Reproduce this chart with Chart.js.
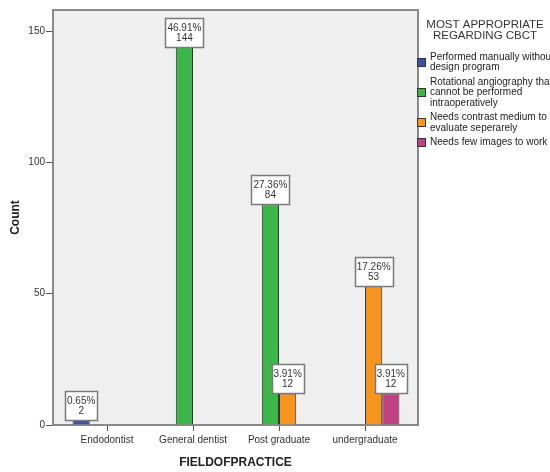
<!DOCTYPE html>
<html>
<head>
<meta charset="utf-8">
<script src="https://cdn.jsdelivr.net/npm/chart.js@4/dist/chart.umd.min.js"></script>
<style>
  html, body { margin: 0; padding: 0; background: #fff; }
  #wrap { width: 550px; height: 472px; }
</style>
</head>
<body>
<div id="wrap"><canvas id="c" width="550" height="472"></canvas></div>
<script>
// Field of practice on the category axis
const categories = ['Endodontist', 'General dentist', 'Post graduate', 'undergraduate'];

// Legend entries (line breaks as in the legend box)
const legendTitle = ['MOST APPROPRIATE', 'REGARDING CBCT'];
const seriesLabels = [
  'Performed manually without\ndesign program',
  'Rotational angiography that\ncannot be performed\nintraoperatively',
  'Needs contrast medium to\nevaluate seperarely',
  'Needs few images to work'
];

// Counts per series (null = no bar in that category)
const manualNoDesign = [2, null, null, null];
const rotationalAngio = [null, 144, 84, null];
const contrastMedium = [null, null, 12, 53];
const fewImages = [null, null, null, 12];

// Y axis ticks
const yTickValues = [0, 50, 100, 150];
const yMax = 158;

const seriesColors = ['#3953a6', '#3cb54a', '#f7941d', '#c1407f'];
const FONT = '"Liberation Sans", Arial, sans-serif';

const seriesData = [manualNoDesign, rotationalAngio, contrastMedium, fewImages];

// Light grey plotting panel with a frame on all four sides
const panelPlugin = {
  id: 'panel',
  beforeDraw(chart) {
    const { ctx, chartArea: a } = chart;
    ctx.save();
    ctx.fillStyle = '#efefef';
    ctx.fillRect(a.left, a.top, a.right - a.left, a.bottom - a.top);
    ctx.restore();
  },
  beforeDatasetsDraw(chart) {
    const { ctx, chartArea: a } = chart;
    ctx.save();
    ctx.strokeStyle = '#8a8a8a';
    ctx.lineWidth = 2;
    ctx.beginPath();
    ctx.moveTo(a.left, a.top);
    ctx.lineTo(a.right, a.top);
    ctx.lineTo(a.right, a.bottom);
    ctx.stroke();
    ctx.restore();
  }
};

// Boxed "percent / count" label on top of each bar
const valueBoxPlugin = {
  id: 'valueBoxes',
  afterDatasetsDraw(chart) {
    const { ctx } = chart;
    let total = 0;
    chart.data.datasets.forEach(ds => ds.data.forEach(v => { if (v != null) total += v; }));
    ctx.save();
    ctx.font = '10px ' + FONT;
    ctx.textAlign = 'center';
    ctx.textBaseline = 'middle';
    chart.data.datasets.forEach((ds, di) => {
      const meta = chart.getDatasetMeta(di);
      meta.data.forEach((bar, i) => {
        const v = ds.data[i];
        if (v == null) return;
        const lines = [(v / total * 100).toFixed(2) + '%', String(v)];
        const w = Math.round(Math.max(...lines.map(t => ctx.measureText(t).width)) + 4);
        const h = 29;
        const x0 = Math.round(bar.x - w / 2) + 0.5;
        const y0 = Math.round(bar.y - h) + 0.5;
        ctx.fillStyle = '#ffffff';
        ctx.fillRect(x0, y0, w, h);
        ctx.strokeStyle = '#7a7a7a';
        ctx.lineWidth = 1.5;
        ctx.strokeRect(x0, y0, w, h);
        ctx.fillStyle = '#333333';
        ctx.fillText(lines[0], bar.x, y0 + 10);
        ctx.fillText(lines[1], bar.x, y0 + 20);
      });
    });
    ctx.restore();
  }
};

// Legend to the right of the panel, with wrapped entry text
const sideLegendPlugin = {
  id: 'sideLegend',
  afterDraw(chart) {
    const { ctx, chartArea: a } = chart;
    ctx.save();
    ctx.fillStyle = '#333333';
    ctx.font = '11.5px ' + FONT;
    ctx.textAlign = 'center';
    ctx.textBaseline = 'middle';
    legendTitle.forEach((t, i) => ctx.fillText(t, 485, 25 + i * 11));

    ctx.font = '10px ' + FONT;
    ctx.textAlign = 'left';
    const lineH = 10.6;
    let y = 57;
    chart.data.datasets.forEach((ds, di) => {
      const lines = ds.label.split('\n');
      const mid = y + (lines.length - 1) * lineH / 2;
      const sx = a.right - 1, sy = Math.round(mid - 4.5);
      ctx.fillStyle = ds.backgroundColor;
      ctx.fillRect(sx, sy, 9, 9);
      ctx.strokeStyle = '#333';
      ctx.lineWidth = 1;
      ctx.strokeRect(sx + 0.5, sy + 0.5, 8, 8);
      ctx.fillStyle = '#222222';
      lines.forEach((t, li) => ctx.fillText(t, 430, y + li * lineH));
      y += lines.length * lineH + 3.6;
    });
    ctx.restore();
  }
};

new Chart(document.getElementById('c'), {
  type: 'bar',
  data: {
    labels: categories,
    datasets: seriesData.map((d, i) => ({
      label: seriesLabels[i],
      data: d,
      backgroundColor: seriesColors[i],
      borderColor: '#333333',
      borderWidth: 1,
      categoryPercentage: 0.8,
      barPercentage: 1.0
    }))
  },
  options: {
    responsive: false,
    devicePixelRatio: 1,
    animation: false,
    layout: { padding: { left: 0, right: 132, top: 10, bottom: 0 } },
    plugins: {
      legend: { display: false },
      tooltip: { enabled: false },
      title: { display: false }
    },
    scales: {
      x: {
        type: 'category',
        offset: true,
        afterBuildTicks(scale) {
          // leave a margin inside the panel on both sides of the categories
          scale._startValue = -0.628;
          scale._valueRange = 4.244;
        },
        afterFit(scale) { scale.height = 47; },
        grid: { offset: false, drawOnChartArea: false, tickLength: 6, color: '#555555', tickWidth: 1 },
        border: { color: '#8a8a8a', width: 2 },
        ticks: { font: { family: FONT, size: 10 }, color: '#333333', padding: 3, maxRotation: 0, autoSkip: false },
        title: {
          display: true,
          text: 'FIELDOFPRACTICE',
          font: { family: FONT, size: 12, weight: 'bold' },
          color: '#222222',
          padding: { top: 0, bottom: 2 }
        }
      },
      y: {
        min: 0,
        max: yMax,
        afterBuildTicks(scale) { scale.ticks = yTickValues.map(v => ({ value: v })); },
        afterFit(scale) { scale.width = 53; },
        grid: { drawOnChartArea: false, tickLength: 7, color: '#555555', tickWidth: 1 },
        border: { color: '#8a8a8a', width: 2 },
        ticks: { font: { family: FONT, size: 10 }, color: '#333333', padding: 1 },
        title: {
          display: true,
          text: 'Count',
          font: { family: FONT, size: 12, weight: 'bold' },
          color: '#222222',
          padding: { top: 8, bottom: 0 }
        }
      }
    }
  },
  plugins: [panelPlugin, valueBoxPlugin, sideLegendPlugin]
});
</script>
</body>
</html>
